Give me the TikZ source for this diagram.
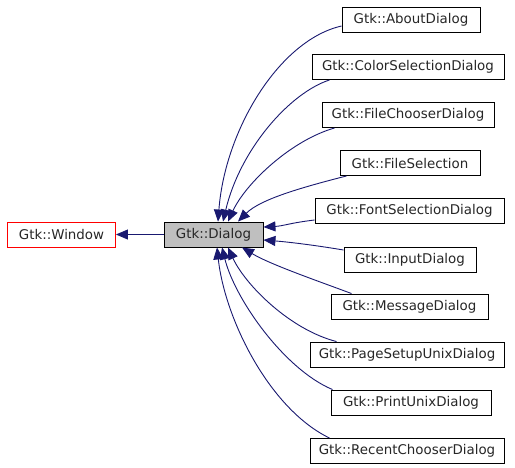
\documentclass[tikz,border=0pt]{standalone}
\usepackage{fontspec}
\setmainfont{DejaVu Sans}
\usetikzlibrary{arrows.meta,calc}
\definecolor{edgeblue}{HTML}{191970}
\definecolor{dlggray}{HTML}{BFBFBF}
\tikzset{
  cls/.style={draw=black, line width=0.9pt, minimum height=25pt, inner sep=0pt,
    font=\fontsize{13.4pt}{15pt}\selectfont, text=black!85},
  inh/.style={draw=edgeblue, line width=0.9pt,
    -{Triangle[length=12pt,width=10pt,fill=edgeblue]}},
}
\begin{document}
\begin{tikzpicture}[x=1pt,y=-1pt]
\useasboundingbox (0,0) rectangle (515,467);
\node[cls, draw=red, minimum width=108pt] (win) at (61.5,234.5) {Gtk::Window};
\node[cls, fill=dlggray, minimum width=99pt] (dlg) at (213.5,234.5) {Gtk::Dialog};

\node[cls, minimum width=138pt] (about)  at (411,19.5)  {Gtk::AboutDialog};
\node[cls, minimum width=192pt] (color)  at (408,67)    {Gtk::ColorSelectionDialog};
\node[cls, minimum width=172pt] (fchoose) at (408,115)  {Gtk::FileChooserDialog};
\node[cls, minimum width=140pt] (fsel)   at (410,163)   {Gtk::FileSelection};
\node[cls, minimum width=189pt] (font)   at (409.5,211) {Gtk::FontSelectionDialog};
\node[cls, minimum width=132pt] (input)  at (410,259.5) {Gtk::InputDialog};
\node[cls, minimum width=157pt] (msg)    at (409.5,306.5) {Gtk::MessageDialog};
\node[cls, minimum width=194pt] (page)   at (407,354.5) {Gtk::PageSetupUnixDialog};
\node[cls, minimum width=160pt] (print)  at (411,402.5) {Gtk::PrintUnixDialog};
\node[cls, minimum width=194pt] (recent) at (407,451)   {Gtk::RecentChooserDialog};

\draw[inh] (dlg.west) -- (win.east);

\draw[inh] ($(about.west)+(0,6.5)$) .. controls +(-62,14) and +(7,-92) .. ($(dlg.north)+(4.5,0)$);
\draw[inh] ($(color.south west)+(18,0)$) .. controls +(-40,13) and +(17,-72) .. ($(dlg.north)+(9.5,0)$);
\draw[inh] ($(fchoose.south west)+(13,0)$) .. controls +(-45,13) and +(17,-37) .. ($(dlg.north)+(14.5,0)$);
\draw[inh] ($(fsel.south west)+(7,0)$) .. controls +(-47,12) and +(22,-22) .. ($(dlg.north)+(24.5,0)$);
\draw[inh] ($(font.west)+(0,9)$) .. controls +(-25,3) and +(20,-1) .. ($(dlg.east)+(0,-7.5)$);
\draw[inh] ($(input.west)+(0,-9.5)$) .. controls +(-30,-5) and +(25,2) .. ($(dlg.east)+(0,5.5)$);
\draw[inh] ($(msg.north west)+(21,0)$) .. controls +(-32,-12) and +(28,17) .. ($(dlg.south)+(28.5,0)$);
\draw[inh] ($(page.north west)+(27,0)$) .. controls +(-47,-12) and +(17,37) .. ($(dlg.south)+(14.5,0)$);
\draw[inh] ($(print.north west)+(2,0)$) .. controls +(-48,-20) and +(13,52) .. ($(dlg.south)+(8.5,0)$);
\draw[inh] ($(recent.north west)+(20,0)$) .. controls +(-60,-29) and +(8,72) .. ($(dlg.south)+(3.5,0)$);
\end{tikzpicture}
\end{document}
